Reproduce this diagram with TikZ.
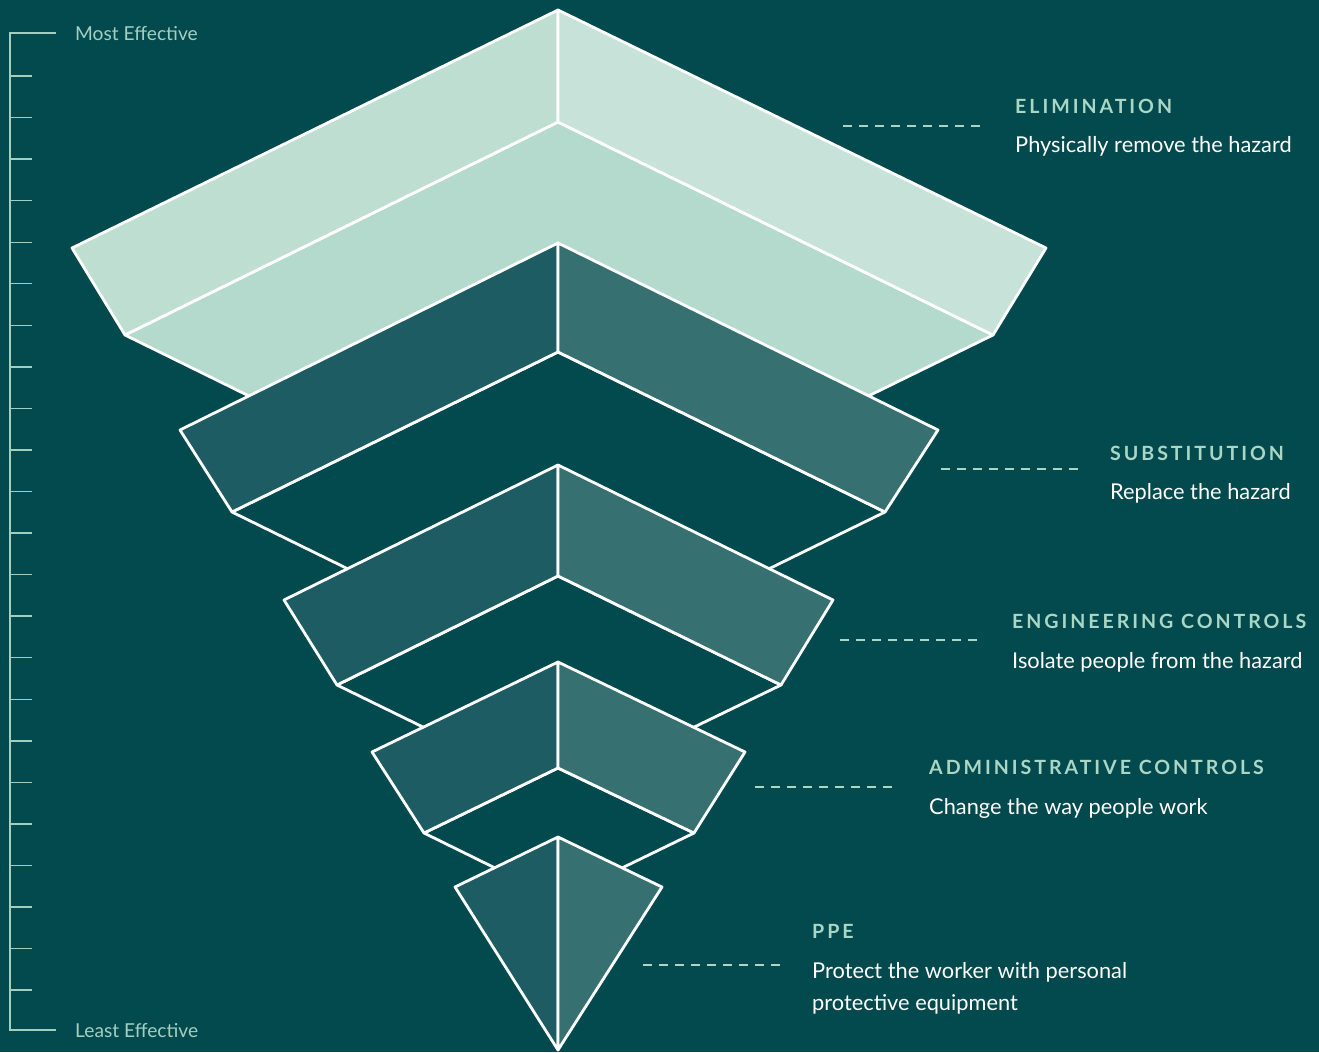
\documentclass[tikz,border=0pt]{standalone}
\usepackage{fontspec}
\setmainfont{Lato}
\newfontfamily\headfont[LetterSpace=15]{Lato}
\usepackage{tikz}

\definecolor{bg}{HTML}{034A4F}
\definecolor{mint}{HTML}{A9D6C5}
\definecolor{rulecol}{HTML}{A3CFC0}
\definecolor{lightL}{HTML}{BEDED2}
\definecolor{lightR}{HTML}{C7E2D8}
\definecolor{lightF}{HTML}{B4DACD}
\definecolor{darkL}{HTML}{1D5C62}
\definecolor{darkR}{HTML}{367071}

\begin{document}
\begin{tikzpicture}[x=1pt, y=-1pt,
    face/.style={draw=white, line width=2.8pt, line join=round},
    head/.style={anchor=base west, inner sep=0pt, text=mint, font=\headfont\bfseries\fontsize{19.6}{23}\selectfont},
    desc/.style={anchor=base west, inner sep=0pt, text=white, align=left, font=\fontsize{21.8}{32}\selectfont},
    lead/.style={draw=mint, line width=1.3pt, dash pattern=on 9pt off 7pt},
    ruler/.style={draw=rulecol, line width=1.4pt},
    end/.style={anchor=base west, inner sep=0pt, text=rulecol, font=\fontsize{19.2}{22}\selectfont}]
  \fill[bg] (0,0) rectangle (1319,1052);
  \useasboundingbox (0,0) rectangle (1319,1052);

  % ruler on the left
  \draw[ruler] (56,33) -- (10,33) -- (10,1030) -- (56,1030);
  \foreach \k in {0,...,22}
    \draw[ruler] (10,76+41.55*\k) -- ++(22,0);
  \node[end] (most) at (75,40) {Most Effective};
  \node[end] (least) at (75,1037) {Least Effective};

  % elimination
  \filldraw[face, fill=lightF] (125,335) -- (558,122) -- (993,335) -- (558,548) -- cycle;
  \filldraw[face, fill=lightL] (72,248) -- (558,10) -- (558,122) -- (125,335) -- cycle;
  \filldraw[face, fill=lightR] (558,10) -- (1046,248) -- (993,335) -- (558,122) -- cycle;

  % substitution
  \filldraw[face, fill=bg] (232,512) -- (558,352) -- (885,512) -- (558,672) -- cycle;
  \filldraw[face, fill=darkL] (180,430) -- (558,243) -- (558,352) -- (232,512) -- cycle;
  \filldraw[face, fill=darkR] (558,243) -- (938,430) -- (885,512) -- (558,352) -- cycle;

  % engineering controls
  \filldraw[face, fill=bg] (337,685) -- (558,576) -- (781,685) -- (558,793) -- cycle;
  \filldraw[face, fill=darkL] (284,600) -- (558,465) -- (558,576) -- (337,685) -- cycle;
  \filldraw[face, fill=darkR] (558,465) -- (833,600) -- (781,685) -- (558,576) -- cycle;

  % administrative controls
  \filldraw[face, fill=bg] (424,833) -- (558,768) -- (694,833) -- (558,899) -- cycle;
  \filldraw[face, fill=darkL] (372,752) -- (558,662) -- (558,768) -- (424,833) -- cycle;
  \filldraw[face, fill=darkR] (558,662) -- (745,752) -- (694,833) -- (558,768) -- cycle;

  % ppe
  \filldraw[face, fill=darkL] (455,887) -- (558,837) -- (558,1050) -- cycle;
  \filldraw[face, fill=darkR] (558,837) -- (662,887) -- (558,1050) -- cycle;

  % labels
  \node[head] (elim) at (1015,113) {ELIMINATION};
  \node[desc] (elimD) at ([yshift=-39pt]elim.base west) {Physically remove the hazard};
  \coordinate (elimL) at (843,126);
  \draw[lead] (elimL) -- ++(140,0);

  \node[head] (subst) at (1110,460) {SUBSTITUTION};
  \node[desc] (substD) at ([yshift=-39pt]subst.base west) {Replace the hazard};
  \coordinate (substL) at (941,469);
  \draw[lead] (substL) -- ++(140,0);

  \node[head] (eng) at (1012,628) {ENGINEERING CONTROLS};
  \node[desc] (engD) at ([yshift=-40pt]eng.base west) {Isolate people from the hazard};
  \coordinate (engL) at (840,640);
  \draw[lead] (engL) -- ++(140,0);

  \node[head] (admin) at (929,774) {ADMINISTRATIVE CONTROLS};
  \node[desc] (adminD) at ([yshift=-40pt]admin.base west) {Change the way people work};
  \coordinate (adminL) at (755,787);
  \draw[lead] (adminL) -- ++(140,0);

  % two lines: the base anchor sits on the last line
  \node[head] (ppe) at (812,938) {PPE};
  \node[desc] (ppeD) at ([yshift=-72pt]ppe.base west) {Protect the worker with personal\\protective equipment};
  \coordinate (ppeL) at (643,965);
  \draw[lead] (ppeL) -- ++(140,0);
\end{tikzpicture}
\end{document}
